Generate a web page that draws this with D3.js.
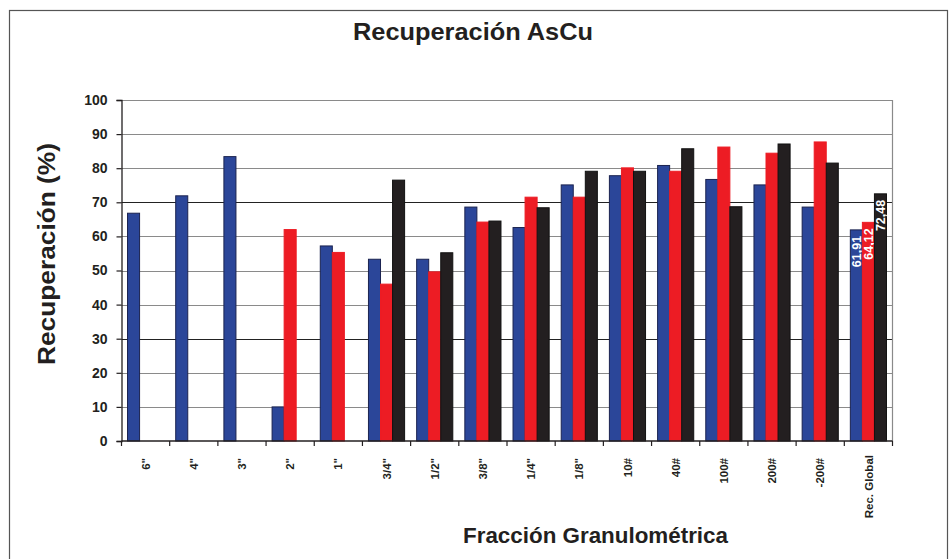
<!DOCTYPE html>
<html>
<head>
<meta charset="utf-8">
<script src="https://cdn.jsdelivr.net/npm/d3@7"></script>
<style>
  body { margin: 0; background: #fff; }
  text { font-family: "Liberation Sans", Arial, sans-serif; font-weight: bold; fill: #231f20; }
</style>
</head>
<body>
<div id="chart"></div>
<script>
// categories on the x axis (fracciones granulométricas)
const categories = ['6"', '4"', '3"', '2"', '1"', '3/4"', '1/2"', '3/8"', '1/4"', '1/8"', '10#', '40#', '100#', '200#', '-200#', 'Rec. Global'];
// three series of recovery values (null = no bar)
const serieAzul = [66.8, 71.9, 83.4, 10.0, 57.2, 53.3, 53.3, 68.6, 62.6, 75.1, 77.8, 80.8, 76.7, 75.1, 68.6, 61.91];
const serieRoja = [null, null, null, 62.0, 55.3, 46.0, 49.6, 64.2, 71.5, 71.5, 80.1, 79.1, 86.2, 84.4, 87.7, 64.12];
const serieNegra = [null, null, null, null, null, 76.5, 55.2, 64.5, 68.4, 79.1, 79.1, 85.7, 68.7, 87.1, 81.5, 72.48];
const yTicks = [0, 10, 20, 30, 40, 50, 60, 70, 80, 90, 100];
const labelledCategory = 'Rec. Global';

const series = [
  {key: 'azul', values: serieAzul, fill: '#2b4699', stroke: '#1b2350'},
  {key: 'roja', values: serieRoja, fill: '#ed1c24', stroke: '#ed1c24'},
  {key: 'negra', values: serieNegra, fill: '#231f20', stroke: '#111'}
];

const width = 950, height = 559;
const margin = {top: 100, right: 57.5, bottom: 118, left: 121.5};

const svg = d3.select('#chart').append('svg')
  .attr('width', width)
  .attr('height', height);

// outer frame
svg.append('rect')
  .attr('x', 9.5).attr('y', 10.5)
  .attr('width', 938).attr('height', 600)
  .attr('fill', 'none')
  .attr('stroke', '#555')
  .attr('stroke-width', 1.2);

const x = d3.scaleBand()
  .domain(categories)
  .range([margin.left, width - margin.right])
  .paddingInner(0.25)
  .paddingOuter(0.125);

const xInner = d3.scaleBand()
  .domain(series.map(s => s.key))
  .range([0, x.bandwidth()]);

const y = d3.scaleLinear()
  .domain([0, 100])
  .range([height - margin.bottom, margin.top]);

// gridlines
svg.append('g')
  .selectAll('line')
  .data(yTicks.filter(d => d > 0))
  .enter().append('line')
  .attr('x1', margin.left).attr('x2', width - margin.right)
  .attr('y1', d => Math.round(y(d)) + 0.5).attr('y2', d => Math.round(y(d)) + 0.5)
  .attr('stroke', d => (d === 30 || d === 70) ? '#222' : '#8a8a8a')
  .attr('stroke-width', 1.2);

// right edge of plot area
svg.append('line')
  .attr('x1', width - margin.right).attr('x2', width - margin.right)
  .attr('y1', y(100)).attr('y2', y(0))
  .attr('stroke', '#8a8a8a')
  .attr('stroke-width', 1.2);

// bars
const groups = svg.append('g')
  .selectAll('g')
  .data(series)
  .enter().append('g');

groups.selectAll('rect')
  .data(s => s.values.map((v, i) => ({cat: categories[i], value: v, s: s})).filter(d => d.value !== null))
  .enter().append('rect')
  .attr('x', d => x(d.cat) + xInner(d.s.key))
  .attr('y', d => y(d.value))
  .attr('width', xInner.bandwidth())
  .attr('height', d => y(0) - y(d.value))
  .attr('fill', d => d.s.fill)
  .attr('stroke', d => d.s.stroke)
  .attr('stroke-width', 1);

// value labels inside the Rec. Global bars
const fmt = d3.format('.2f');
groups.each(function(s) {
  const i = categories.indexOf(labelledCategory);
  const v = s.values[i];
  const cx = x(labelledCategory) + xInner(s.key) + xInner.bandwidth() / 2;
  const cy = y(v) + 6;
  d3.select(this).append('text')
    .attr('transform', `translate(${cx},${cy}) rotate(-90)`)
    .attr('text-anchor', 'end')
    .attr('dy', '0.36em')
    .style('fill', '#fff')
    .style('font-size', '12.5px')
    .text(fmt(v).replace('.', ','));
});

// y axis
const yAxis = svg.append('g')
  .attr('transform', `translate(${margin.left},0)`)
  .call(d3.axisLeft(y).tickValues(yTicks).tickSize(5).tickPadding(9));
yAxis.select('.domain').attr('stroke', '#231f20').attr('stroke-width', 1.3);
yAxis.selectAll('.tick line').attr('stroke', '#231f20').attr('stroke-width', 1.2);
yAxis.selectAll('text')
  .attr('font-family', null)
  .attr('font-size', null)
  .style('font-size', '14px');

// x axis: ticks between categories
const xAxisG = svg.append('g')
  .attr('transform', `translate(0,${y(0)})`);
xAxisG.append('line')
  .attr('x1', margin.left).attr('x2', width - margin.right)
  .attr('stroke', '#231f20').attr('stroke-width', 1.3);
const boundaries = categories.map(c => x(c) - x.step() * x.paddingInner() / 2 - (c === categories[0] ? x.step() * (x.paddingOuter() - x.paddingInner() / 2) : 0));
boundaries.push(width - margin.right);
xAxisG.selectAll('.tk')
  .data(boundaries)
  .enter().append('line')
  .attr('class', 'tk')
  .attr('x1', d => d).attr('x2', d => d)
  .attr('y1', 0).attr('y2', 5)
  .attr('stroke', '#231f20').attr('stroke-width', 1.2);
xAxisG.selectAll('.lbl')
  .data(categories)
  .enter().append('text')
  .attr('class', 'lbl')
  .attr('transform', d => `translate(${x(d) + x.bandwidth() / 2},${d === labelledCategory ? 14 : 17}) rotate(-90)`)
  .attr('text-anchor', 'end')
  .attr('dy', '0.36em')
  .style('font-size', '11.5px')
  .text(d => d);

// titles
svg.append('text')
  .attr('x', 473).attr('y', 39.5)
  .attr('text-anchor', 'middle')
  .attr('textLength', 240)
  .attr('lengthAdjust', 'spacingAndGlyphs')
  .style('font-size', '24px')
  .text('Recuperación AsCu');

svg.append('text')
  .attr('transform', 'translate(55,254) rotate(-90)')
  .attr('text-anchor', 'middle')
  .attr('textLength', 222)
  .attr('lengthAdjust', 'spacingAndGlyphs')
  .style('font-size', '24px')
  .text('Recuperación (%)');

svg.append('text')
  .attr('x', 595.5).attr('y', 542.5)
  .attr('text-anchor', 'middle')
  .attr('textLength', 265)
  .attr('lengthAdjust', 'spacingAndGlyphs')
  .style('font-size', '22px')
  .text('Fracción Granulométrica');
</script>
</body>
</html>
